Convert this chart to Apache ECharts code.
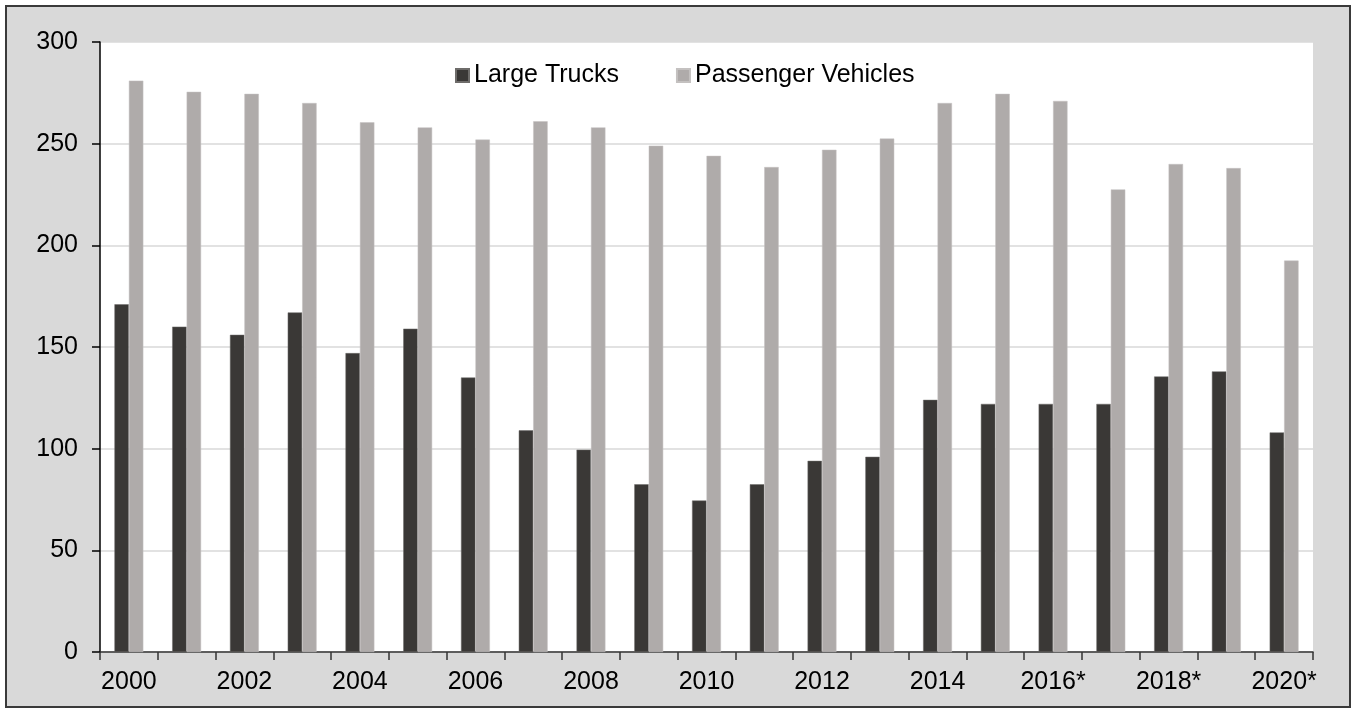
<!DOCTYPE html>
<html>
<head>
<meta charset="utf-8">
<script src="https://cdn.jsdelivr.net/npm/echarts@6/dist/echarts.min.js"></script>
<style>
html,body{margin:0;padding:0;background:#fff;}
#chart{width:1353px;height:710px;}
</style>
</head>
<body>
<div id="chart"></div>
<script>
const categories = ['2000','2001','2002','2003','2004','2005','2006','2007','2008','2009','2010','2011','2012','2013','2014','2015','2016*','2017*','2018*','2019*','2020*'];
const largeTrucks = [171,160,156,167,147,159,135,109,99.5,82.5,74.5,82.5,94,96,124,122,122,122,135.5,138,108];
const passengerVehicles = [281,275.5,274.5,270,260.5,258,252,261,258,249,244,238.5,247,252.5,270,274.5,271,227.5,240,238,192.5];
const yTicks = [0,50,100,150,200,250,300];

const chart = echarts.init(document.getElementById('chart'));
const font = 'Liberation Sans, Arial, sans-serif';
chart.setOption({
  animation: false,
  backgroundColor: '#ffffff',
  graphic: [{
    type: 'rect',
    z: -10,
    silent: true,
    shape: {x: 6, y: 6, width: 1344, height: 701},
    style: {fill: '#d9d9d9', stroke: '#3a3a3a', lineWidth: 2}
  }],
  legend: {
    left: 450,
    top: 58,
    itemWidth: 13,
    itemHeight: 13,
    itemGap: 57,
    icon: 'rect',
    textStyle: {fontFamily: font, fontSize: 25, color: '#000'},
    data: ['Large Trucks','Passenger Vehicles']
  },
  grid: {
    left: 100, right: 40, top: 42, bottom: 58,
    show: true, backgroundColor: '#ffffff', borderWidth: 0
  },
  xAxis: {
    type: 'category',
    data: categories,
    axisLine: {lineStyle: {color: '#333', width: 1.5}},
    axisTick: {show: true, interval: 0, length: 8, lineStyle: {color: '#333', width: 1.5}},
    axisLabel: {interval: 1, margin: 18, fontFamily: font, fontSize: 25, color: '#000'},
    splitLine: {show: false}
  },
  yAxis: {
    type: 'value',
    min: yTicks[0],
    max: yTicks[yTicks.length-1],
    interval: 50,
    axisLine: {show: true, lineStyle: {color: '#000', width: 1.5}},
    axisTick: {show: true, length: 8, lineStyle: {color: '#000', width: 1.5}},
    axisLabel: {margin: 22, fontFamily: font, fontSize: 25, color: '#000'},
    splitLine: {show: true, lineStyle: {color: '#d9d9d9', width: 1.5}}
  },
  series: [
    {
      name: 'Large Trucks', type: 'bar', data: largeTrucks,
      barGap: '0%', barCategoryGap: '50%',
      itemStyle: {color: '#3a3836', borderColor: '#6e6c6a', borderWidth: 0.5}
    },
    {
      name: 'Passenger Vehicles', type: 'bar', data: passengerVehicles,
      barGap: '0%', barCategoryGap: '50%',
      itemStyle: {color: '#afabaa', borderColor: '#c4c1c0', borderWidth: 0.5}
    }
  ]
});
</script>
</body>
</html>
